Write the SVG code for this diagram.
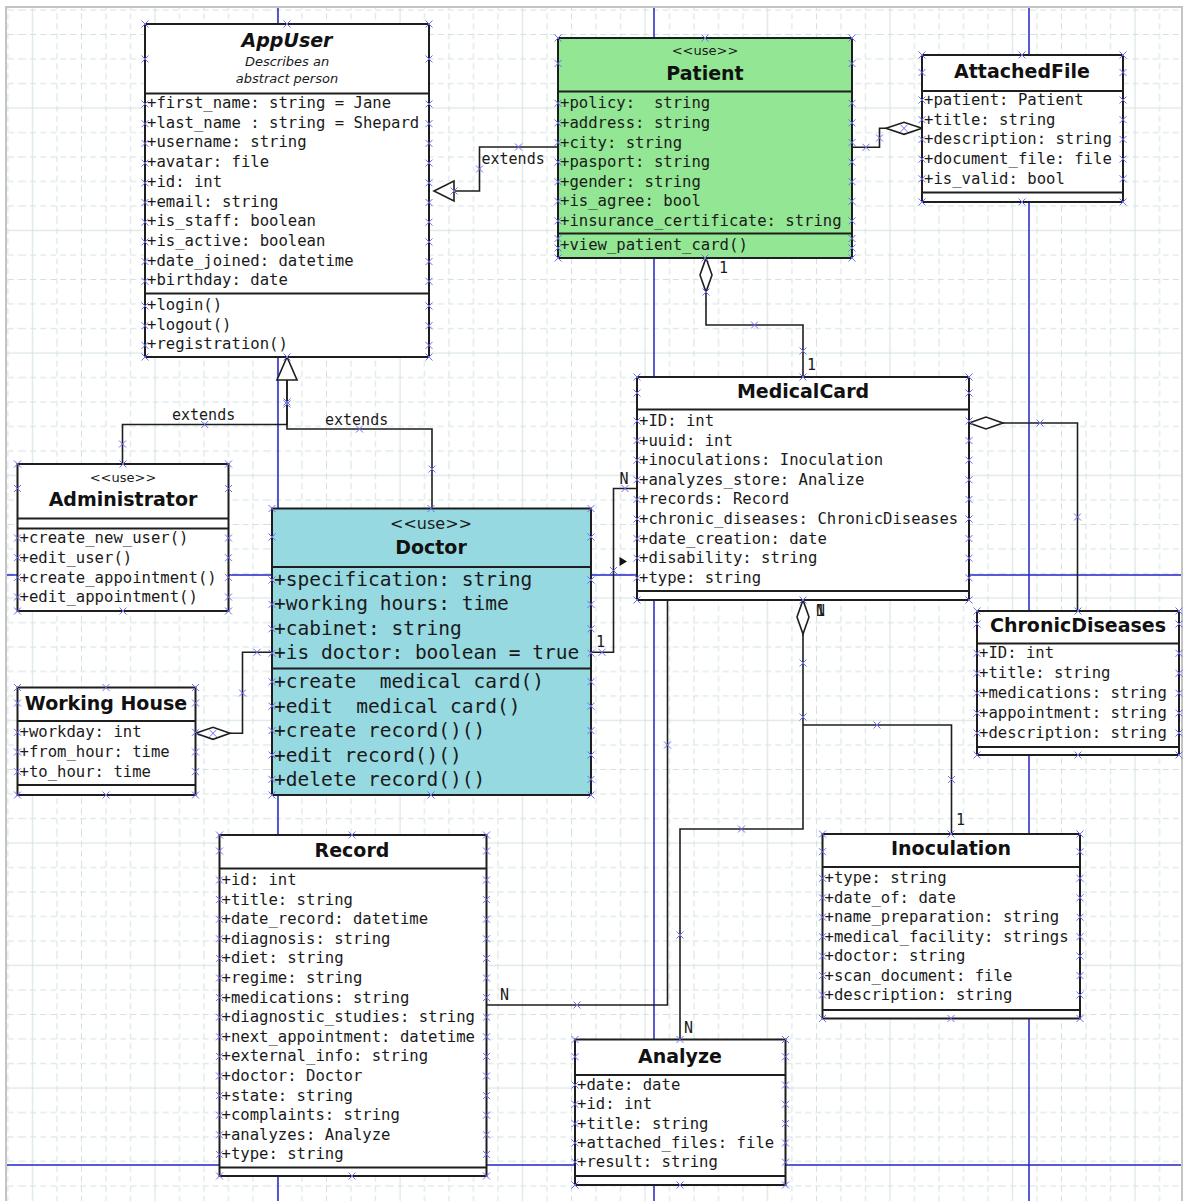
<svg xmlns="http://www.w3.org/2000/svg" width="1187" height="1201" viewBox="0 0 1187 1201">
<style>
.b{fill:#fff;stroke:#1e1e1e;stroke-width:2}
.s{stroke:#1e1e1e;stroke-width:2;fill:none}
.c{fill:none;stroke:#1e1e1e;stroke-width:1.6}
.m{font-family:"DejaVu Sans Mono","Liberation Mono",monospace;font-size:15.6px;fill:#1a1a1a;white-space:pre}
.md{font-size:19.5px}
.lb{font-family:"DejaVu Sans Mono","Liberation Mono",monospace;font-size:15px;fill:#1a1a1a}
.t{font-family:"DejaVu Sans","Liberation Sans",sans-serif;font-weight:bold;font-size:19px;fill:#111;text-anchor:middle}
.st{font-family:"DejaVu Sans","Liberation Sans",sans-serif;font-size:13px;fill:#1a1a1a;text-anchor:middle}
.it{font-style:italic}
.hp{fill:none;stroke:none;marker-start:url(#hx);marker-mid:url(#hx);marker-end:url(#hx)}
.pb{stroke:#2424c4;stroke-width:1.5;fill:none}
.gm{stroke:#d3e1e1;stroke-width:1}
.gd{stroke:#d3e1e1;stroke-width:1;stroke-dasharray:6 4}
</style>
<defs>
<marker id="hx" markerWidth="8" markerHeight="8" refX="4" refY="4" markerUnits="userSpaceOnUse" overflow="visible">
<path d="M0.5,0.5L7.5,7.5M7.5,0.5L0.5,7.5" stroke="#6e6ef2" stroke-width="1" fill="none"/>
</marker>
<pattern id="grid" x="20.25" y="95.75" width="122.5" height="122.5" patternUnits="userSpaceOnUse">
<path class="gm" d="M12.25,0V122.5M0,12.25H122.5"/>
<path class="gd" d="M36.75,0V122.5M61.25,0V122.5M85.75,0V122.5M110.25,0V122.5M0,36.75H122.5M0,61.25H122.5M0,85.75H122.5M0,110.25H122.5"/>
</pattern>
</defs>
<rect x="0" y="0" width="1187" height="1201" fill="#fff"/>
<rect x="7" y="8" width="1175" height="1193" fill="url(#grid)"/>
<path d="M6,1201V7H1182V1201" fill="none" stroke="#c4c4c4" stroke-width="2"/>
<g id="pagebreaks">
<path class="pb" d="M278,8V1201M654,8V1201M1029,8V1201M7,575H1181M7,1165H1181"/>
</g>

<g id="connectors">
<!-- Patient -> AppUser -->
<polyline class="c" points="558,147 479.5,147 479.5,191 454,191"/>
<polygon points="434,191 454,181 454,201" fill="#fff" stroke="#1e1e1e" stroke-width="1.6"/>
<text class="lb" x="481.5" y="163.5">extends</text>
<!-- Admin -> AppUser -->
<polyline class="c" points="122.5,464 122.5,424.5 287,424.5 287,380"/>
<text class="lb" x="172" y="420">extends</text>
<!-- Doctor -> AppUser -->
<polyline class="c" points="432,508.5 432,429 287,429 287,380"/>
<text class="lb" x="325" y="425">extends</text>
<polygon points="287,357 277,380 297,380" fill="#fff" stroke="#1e1e1e" stroke-width="1.6"/>
<!-- Patient <>- MedicalCard -->
<polygon points="706,258 712,275 706,292 700,275" fill="#fff" stroke="#1e1e1e" stroke-width="1.6"/>
<polyline class="c" points="706,292 706,325 803,325 803,377"/>
<text class="lb" x="719" y="273">1</text>
<text class="lb" x="807" y="369.5">1</text>
<!-- AttachedFile <>- Patient -->
<polyline class="c" points="852,147.3 879.5,147.3 879.5,128.3 886,128.3"/>
<polygon points="922,128.3 904,122.3 886,128.3 904,134.3" fill="#fff" stroke="#1e1e1e" stroke-width="1.6"/>
<!-- MedicalCard <>- ChronicDiseases -->
<polygon points="969,423 986,417 1003,423 986,429" fill="#fff" stroke="#1e1e1e" stroke-width="1.6"/>
<polyline class="c" points="1003,423 1077.5,423 1077.5,611"/>
<!-- Working House <>- Doctor -->
<polygon points="195.5,733.3 213,727.3 230,733.3 213,739.3" fill="#fff" stroke="#1e1e1e" stroke-width="1.6"/>
<polyline class="c" points="230,733.3 242.5,733.3 242.5,652.3 272,652.3"/>
<!-- Doctor - MedicalCard -->
<polyline class="c" points="591,652.3 613.5,652.3 613.5,488.5 637,488.5"/>
<text class="lb" x="596" y="647">1</text>
<text class="lb" x="619.5" y="483.5">N</text>
<polygon points="619.5,557 619.5,566 627,561.5" fill="#111"/>
<!-- MedicalCard - Record -->
<polyline class="c" points="667.5,600 667.5,1005 486.5,1005"/>
<text class="lb" x="500" y="1000">N</text>
<!-- MedicalCard <>- Analyze / Inoculation -->
<polygon points="803,600 809,617 803,634 797,617" fill="#fff" stroke="#1e1e1e" stroke-width="1.6"/>
<polyline class="c" points="803,634 803,829 680,829 680,1039.5"/>
<polyline class="c" points="803,725 951.5,725 951.5,834"/>
<text class="lb" x="816" y="616">1</text>
<text class="lb" x="816" y="616">N</text>
<text class="lb" x="684" y="1032.5">N</text>
<text class="lb" x="956" y="825">1</text>
<!-- connector handles -->
<polyline class="hp" points="518.5,147 479.5,169 454,191"/>
<polyline class="hp" points="122.5,444 204.7,424.5 287,402"/>
<polyline class="hp" points="432,469 359.5,429 287,404"/>
<polyline class="hp" points="706,292 754.5,325 803,351"/>
<polyline class="hp" points="866,147.3 879.5,138 904,128.3"/>
<polyline class="hp" points="1040,423 1077.5,517"/>
<polyline class="hp" points="213,733.3 242.5,693 257,652.3"/>
<polyline class="hp" points="602,652.3 613.5,570.5 625,488.5"/>
<polyline class="hp" points="667.5,745 577,1005"/>
<polyline class="hp" points="803,663 803,717 741.5,829 680,935"/>
<polyline class="hp" points="877,725 951.5,779.5"/>
</g>

<g id="appuser">
<rect class="b" x="145" y="24" width="284" height="333"/>
<path class="s" d="M145,93.5H429M145,293.5H429"/>
<text class="t it" x="287" y="47">AppUser</text>
<text class="st it" x="287" y="66">Describes an</text>
<text class="st it" x="287" y="83">abstract person</text>
<text class="m" x="147" y="108">+first_name: string = Jane</text>
<text class="m" x="147" y="127.7">+last_name : string = Shepard</text>
<text class="m" x="147" y="147.4">+username: string</text>
<text class="m" x="147" y="167.1">+avatar: file</text>
<text class="m" x="147" y="186.8">+id: int</text>
<text class="m" x="147" y="206.5">+email: string</text>
<text class="m" x="147" y="226.2">+is_staff: boolean</text>
<text class="m" x="147" y="245.9">+is_active: boolean</text>
<text class="m" x="147" y="265.6">+date_joined: datetime</text>
<text class="m" x="147" y="285.3">+birthday: date</text>
<text class="m" x="147" y="310">+login()</text>
<text class="m" x="147" y="329.7">+logout()</text>
<text class="m" x="147" y="349.4">+registration()</text>
<polyline class="hp" points="145,24 287,24 429,24 429,59 429,104 429,123.7 429,143.4 429,163.1 429,182.8 429,202.5 429,222.2 429,241.9 429,261.6 429,281.3 429,306 429,325.7 429,345.4 429,357 287,357 145,357 145,345.4 145,325.7 145,306 145,281.3 145,261.6 145,241.9 145,222.2 145,202.5 145,182.8 145,163.1 145,143.4 145,123.7 145,104 145,59"/>
</g>

<g id="patient">
<rect class="b" x="558" y="38" width="294" height="220" style="fill:#93e693"/>
<path class="s" d="M558,91.5H852M558,233.5H852"/>
<text class="st" x="705" y="55">&lt;&lt;use&gt;&gt;</text>
<text class="t" x="705" y="80">Patient</text>
<text class="m" x="560" y="108.3">+policy:  string</text>
<text class="m" x="560" y="127.9">+address: string</text>
<text class="m" x="560" y="147.5">+city: string</text>
<text class="m" x="560" y="167.1">+pasport: string</text>
<text class="m" x="560" y="186.7">+gender: string</text>
<text class="m" x="560" y="206.3">+is_agree: bool</text>
<text class="m" x="560" y="225.9">+insurance_certificate: string</text>
<text class="m" x="560" y="250">+view_patient_card()</text>
<polyline class="hp" points="558,38 705,38 852,38 852,63.5 852,103.3 852,122.9 852,142.5 852,162.1 852,181.7 852,201.3 852,220.9 852,238.5 852,248 852,258 705,258 558,258 558,248 558,238.5 558,220.9 558,201.3 558,181.7 558,162.1 558,142.5 558,122.9 558,103.3 558,63.5"/>
</g>

<g id="attachedfile">
<rect class="b" x="922" y="55" width="201" height="147"/>
<path class="s" d="M922,91H1123M922,192.5H1123"/>
<text class="t" x="1022" y="78">AttachedFile</text>
<text class="m" x="924" y="105">+patient: Patient</text>
<text class="m" x="924" y="124.7">+title: string</text>
<text class="m" x="924" y="144.4">+description: string</text>
<text class="m" x="924" y="164.1">+document_file: file</text>
<text class="m" x="924" y="183.8">+is_valid: bool</text>
<polyline class="hp" points="922,55 1022,55 1123,55 1123,72.5 1123,100 1123,119.7 1123,139.4 1123,159.1 1123,178.8 1123,202 1022,202 922,202 922,178.8 922,159.1 922,139.4 922,119.7 922,100 922,72.5"/>
</g>

<g id="medicalcard">
<rect class="b" x="637" y="377" width="332" height="223"/>
<path class="s" d="M637,409.5H969M637,591H969"/>
<text class="t" x="803" y="398">MedicalCard</text>
<text class="m" x="639" y="426">+ID: int</text>
<text class="m" x="639" y="445.6">+uuid: int</text>
<text class="m" x="639" y="465.2">+inoculations: Inoculation</text>
<text class="m" x="639" y="484.8">+analyzes_store: Analize</text>
<text class="m" x="639" y="504.4">+records: Record</text>
<text class="m" x="639" y="524">+chronic_diseases: ChronicDiseases</text>
<text class="m" x="639" y="543.6">+date_creation: date</text>
<text class="m" x="639" y="563.2">+disability: string</text>
<text class="m" x="639" y="582.8">+type: string</text>
<polyline class="hp" points="637,377 803,377 969,377 969,393 969,421 969,440.6 969,460.2 969,479.8 969,499.4 969,519 969,538.6 969,558.2 969,577.8 969,600 803,600 637,600 637,577.8 637,558.2 637,538.6 637,519 637,499.4 637,479.8 637,460.2 637,440.6 637,421 637,393"/>
</g>

<g id="administrator">
<rect class="b" x="17.5" y="464" width="211" height="147"/>
<path class="s" d="M17.5,518.5H228.5M17.5,528.5H228.5"/>
<text class="st" x="123" y="482">&lt;&lt;use&gt;&gt;</text>
<text class="t" x="123" y="506">Administrator</text>
<text class="m" x="19.5" y="543.3">+create_new_user()</text>
<text class="m" x="19.5" y="563">+edit_user()</text>
<text class="m" x="19.5" y="582.7">+create_appointment()</text>
<text class="m" x="19.5" y="602.4">+edit_appointment()</text>
<polyline class="hp" points="17.5,464 123,464 228.5,464 228.5,488.5 228.5,538 228.5,557.7 228.5,577.4 228.5,597 228.5,611 123,611 17.5,611 17.5,597 17.5,577.4 17.5,557.7 17.5,538 17.5,488.5"/>
</g>

<g id="workinghouse">
<rect class="b" x="17.5" y="687.5" width="178" height="107.5"/>
<path class="s" d="M17.5,721H195.5M17.5,785H195.5"/>
<text class="t" x="106" y="709.5">Working House</text>
<text class="m" x="19.5" y="737.3">+workday: int</text>
<text class="m" x="19.5" y="757">+from_hour: time</text>
<text class="m" x="19.5" y="776.7">+to_hour: time</text>
<polyline class="hp" points="17.5,687.5 106,687.5 195.5,687.5 195.5,703 195.5,732.3 195.5,752 195.5,771.7 195.5,795 106,795 17.5,795 17.5,771.7 17.5,752 17.5,732.3 17.5,703"/>
</g>

<g id="doctor">
<rect class="b" x="272" y="508.5" width="319" height="286.5" style="fill:#97d9e1"/>
<path class="s" d="M272,567H591M272,668.5H591"/>
<text class="st" x="431" y="528.5" style="font-size:16px">&lt;&lt;use&gt;&gt;</text>
<text class="t" x="431" y="554">Doctor</text>
<text class="m md" x="274" y="586">+specification: string</text>
<text class="m md" x="274" y="610.4">+working hours: time</text>
<text class="m md" x="274" y="634.8">+cabinet: string</text>
<text class="m md" x="274" y="659.2">+is doctor: boolean = true</text>
<text class="m md" x="274" y="688.3">+create  medical card()</text>
<text class="m md" x="274" y="712.7">+edit  medical card()</text>
<text class="m md" x="274" y="737.1">+create record()()</text>
<text class="m md" x="274" y="761.5">+edit record()()</text>
<text class="m md" x="274" y="785.9">+delete record()()</text>
<polyline class="hp" points="272,508.5 431,508.5 591,508.5 591,537 591,580 591,604.4 591,628.8 591,653.2 591,681.8 591,706.2 591,730.6 591,755 591,779.4 591,795 431,795 272,795 272,779.4 272,755 272,730.6 272,706.2 272,681.8 272,653.2 272,628.8 272,604.4 272,580 272,537"/>
</g>

<g id="record">
<rect class="b" x="219.5" y="835" width="267" height="341"/>
<path class="s" d="M219.5,868.5H486.5M219.5,1167.5H486.5"/>
<text class="t" x="352" y="857">Record</text>
<text class="m" x="221.5" y="885">+id: int</text>
<text class="m" x="221.5" y="904.6">+title: string</text>
<text class="m" x="221.5" y="924.2">+date_record: datetime</text>
<text class="m" x="221.5" y="943.8">+diagnosis: string</text>
<text class="m" x="221.5" y="963.4">+diet: string</text>
<text class="m" x="221.5" y="983">+regime: string</text>
<text class="m" x="221.5" y="1002.6">+medications: string</text>
<text class="m" x="221.5" y="1022.2">+diagnostic_studies: string</text>
<text class="m" x="221.5" y="1041.8">+next_appointment: datetime</text>
<text class="m" x="221.5" y="1061.4">+external_info: string</text>
<text class="m" x="221.5" y="1081">+doctor: Doctor</text>
<text class="m" x="221.5" y="1100.6">+state: string</text>
<text class="m" x="221.5" y="1120.2">+complaints: string</text>
<text class="m" x="221.5" y="1139.8">+analyzes: Analyze</text>
<text class="m" x="221.5" y="1159.4">+type: string</text>
<polyline class="hp" points="219.5,835 352,835 486.5,835 486.5,851 486.5,880 486.5,899.6 486.5,919.2 486.5,938.8 486.5,958.4 486.5,978 486.5,997.6 486.5,1017.2 486.5,1036.8 486.5,1056.4 486.5,1076 486.5,1095.6 486.5,1115.2 486.5,1134.8 486.5,1154.4 486.5,1176 352,1176 219.5,1176 219.5,1154.4 219.5,1134.8 219.5,1115.2 219.5,1095.6 219.5,1076 219.5,1056.4 219.5,1036.8 219.5,1017.2 219.5,997.6 219.5,978 219.5,958.4 219.5,938.8 219.5,919.2 219.5,899.6 219.5,880 219.5,851"/>
</g>

<g id="analyze">
<rect class="b" x="575" y="1039.5" width="210.5" height="145.5"/>
<path class="s" d="M575,1075H785.5M575,1176H785.5"/>
<text class="t" x="680" y="1063">Analyze</text>
<text class="m" x="577" y="1090">+date: date</text>
<text class="m" x="577" y="1109.3">+id: int</text>
<text class="m" x="577" y="1128.6">+title: string</text>
<text class="m" x="577" y="1147.9">+attached_files: file</text>
<text class="m" x="577" y="1167.2">+result: string</text>
<polyline class="hp" points="575,1039.5 680,1039.5 785.5,1039.5 785.5,1056.7 785.5,1085 785.5,1104.3 785.5,1123.6 785.5,1142.9 785.5,1162.2 785.5,1185 680,1185 575,1185 575,1162.2 575,1142.9 575,1123.6 575,1104.3 575,1085 575,1056.7"/>
</g>

<g id="inoculation">
<rect class="b" x="822.5" y="834" width="257.5" height="184.5"/>
<path class="s" d="M822.5,867H1080M822.5,1010H1080"/>
<text class="t" x="951" y="855">Inoculation</text>
<text class="m" x="824.5" y="883.3">+type: string</text>
<text class="m" x="824.5" y="902.8">+date_of: date</text>
<text class="m" x="824.5" y="922.2">+name_preparation: string</text>
<text class="m" x="824.5" y="941.7">+medical_facility: strings</text>
<text class="m" x="824.5" y="961.1">+doctor: string</text>
<text class="m" x="824.5" y="980.6">+scan_document: file</text>
<text class="m" x="824.5" y="1000">+description: string</text>
<polyline class="hp" points="822.5,834 951,834 1080,834 1080,851.7 1080,878.3 1080,897.8 1080,917.2 1080,936.7 1080,956.1 1080,975.6 1080,995 1080,1018.5 951,1018.5 822.5,1018.5 822.5,995 822.5,975.6 822.5,956.1 822.5,936.7 822.5,917.2 822.5,897.8 822.5,878.3 822.5,851.7"/>
</g>

<g id="chronicdiseases">
<rect class="b" x="977" y="611" width="202" height="144"/>
<path class="s" d="M977,643.5H1179M977,747H1179"/>
<text class="t" x="1078" y="632">ChronicDiseases</text>
<text class="m" x="979" y="658.3">+ID: int</text>
<text class="m" x="979" y="678.3">+title: string</text>
<text class="m" x="979" y="698.2">+medications: string</text>
<text class="m" x="979" y="718.1">+appointment: string</text>
<text class="m" x="979" y="738">+description: string</text>
<polyline class="hp" points="977,611 1078,611 1179,611 1179,624 1179,653.3 1179,673.3 1179,693.2 1179,713.1 1179,733 1179,755 1078,755 977,755 977,733 977,713.1 977,693.2 977,673.3 977,653.3 977,624"/>
</g>
</svg>
